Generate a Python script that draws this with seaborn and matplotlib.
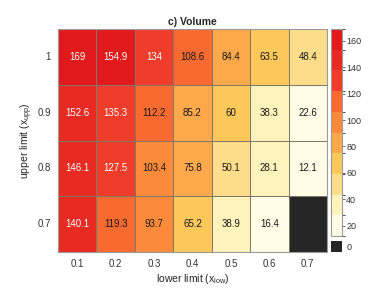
import numpy as np
import pandas as pd
import matplotlib
import matplotlib.pyplot as plt
import seaborn as sns
from matplotlib.colors import ListedColormap, BoundaryNorm

# data
lower = ['0.1', '0.2', '0.3', '0.4', '0.5', '0.6', '0.7']
upper = ['1', '0.9', '0.8', '0.7']
row_1 = [169, 154.9, 134, 108.6, 84.4, 63.5, 48.4]
row_09 = [152.6, 135.3, 112.2, 85.2, 60, 38.3, 22.6]
row_08 = [146.1, 127.5, 103.4, 75.8, 50.1, 28.1, 12.1]
row_07 = [140.1, 119.3, 93.7, 65.2, 38.9, 16.4, np.nan]

df = pd.DataFrame([row_1, row_09, row_08, row_07], index=upper, columns=lower)

colors = ['#fffde6', '#fff3bb', '#fedd8a', '#fcc85a', '#fda84a',
          '#fd8a3a', '#f86a30', '#f03c2a', '#e92a22', '#e31a1c']
cmap = ListedColormap(colors)
vmin, vmax = 12.1, 169
bounds = np.linspace(vmin, vmax, len(colors) + 1)
norm = BoundaryNorm(bounds, cmap.N)

sns.set_style('white')
plt.rcParams['font.family'] = ['Liberation Sans', 'DejaVu Sans']

fig = plt.figure(figsize=(3.89, 2.92), dpi=100)
ax = fig.add_axes([58 / 389, 1 - 252 / 292, 269 / 389, 223 / 292])
cax = fig.add_axes([331 / 389, 1 - 236 / 292, 11 / 389, 207 / 292])
nax = fig.add_axes([331 / 389, 1 - 252 / 292, 11 / 389, 11 / 292])

labels = df.map(lambda v: '' if np.isnan(v) else f'{v:g}')
sns.heatmap(df, ax=ax, cmap=cmap, norm=norm, cbar=False, mask=df.isna(),
            annot=labels, fmt='', annot_kws={'fontsize': 7},
            linewidths=0.6, linecolor='#7d7868')
ax.set_facecolor('#262626')

# text colour by value
vals = df.values.flatten()
vals = vals[~np.isnan(vals)]
for t, v in zip(ax.texts, vals):
    t.set_color('white' if v > 120 else '#1a1a1a')

ax.set_title('c) Volume', fontsize=7.5, fontweight='bold', pad=3)
ax.set_xlabel(r'lower limit (x$_{\mathregular{low}}$)', fontsize=7.5, labelpad=2)
ax.set_ylabel(r'upper limit (x$_{\mathregular{upp}}$)', fontsize=7.5, labelpad=2)
ax.tick_params(length=0, labelsize=7, colors='#333333', pad=5)
ax.set_yticklabels(upper, rotation=0)
for s in ax.spines.values():
    s.set_visible(True)
    s.set_color('#9a9a9a')
    s.set_linewidth(0.8)

sm = matplotlib.cm.ScalarMappable(norm=norm, cmap=cmap)
cb = fig.colorbar(sm, cax=cax, ticks=[20, 40, 60, 80, 100, 120, 140, 160])
cb.ax.tick_params(labelsize=6.5, length=2, width=0.5, colors='#333333', pad=1)
cb.outline.set_edgecolor('#9a9a9a')
cb.outline.set_linewidth(0.8)

nax.set_facecolor('#262626')
nax.set_xticks([])
nax.set_yticks([0.5])
nax.set_yticklabels(['0'])
nax.yaxis.tick_right()
nax.tick_params(labelsize=6.5, length=0, colors='#333333', pad=3)
for s in nax.spines.values():
    s.set_visible(False)

fig.savefig('out.png', dpi=100)
